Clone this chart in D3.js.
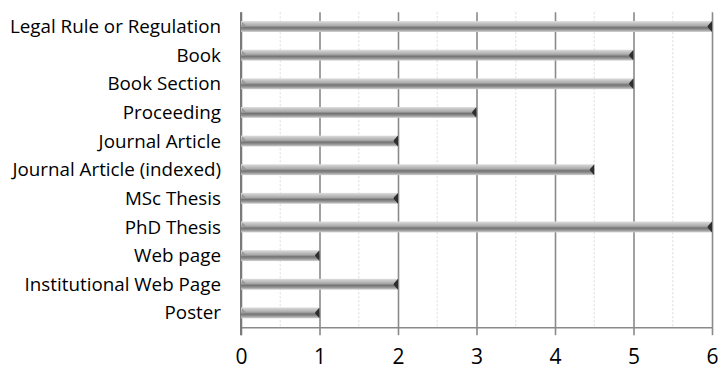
<!DOCTYPE html>
<html>
<head>
<meta charset="utf-8">
<script src="https://cdn.jsdelivr.net/npm/d3@7"></script>
<style>
  html, body { margin: 0; padding: 0; background: #fff; }
  svg { display: block; }
</style>
</head>
<body>
<script>
const categories = ["Legal Rule or Regulation", "Book", "Book Section", "Proceeding", "Journal Article",
  "Journal Article (indexed)", "MSc Thesis", "PhD Thesis", "Web page", "Institutional Web Page", "Poster"];
const values = [6, 5, 5, 3, 2, 4.5, 2, 6, 1, 2, 1];
const tickValues = [0, 1, 2, 3, 4, 5, 6];

const W = 719, H = 371;
const margin = { left: 241, right: 7, top: 12.2, bottom: 43.8 };

const svg = d3.select("body").append("svg").attr("width", W).attr("height", H);

const defs = svg.append("defs");
const grad = defs.append("linearGradient").attr("id", "barGrad")
  .attr("x1", 0).attr("y1", 0).attr("x2", 0).attr("y2", 1);
[[0, "#dedede"], [0.18, "#c6c6c6"], [0.42, "#aaaaaa"], [0.6, "#737373"], [0.78, "#929292"], [1, "#d2d2d2"]]
  .forEach(([o, c]) => grad.append("stop").attr("offset", o).attr("stop-color", c));

const x = d3.scaleLinear().domain([0, 6]).range([margin.left, W - margin.right]);
const y = d3.scaleBand().domain(categories).range([margin.top, H - margin.bottom]).paddingInner(0.62).paddingOuter(0.31);

const plotTop = margin.top, plotBottom = H - margin.bottom;

// minor dotted gridlines
const minor = d3.range(0.5, 6, 1);
svg.append("g").selectAll("line").data(minor).join("line")
  .attr("x1", d => x(d)).attr("x2", d => x(d))
  .attr("y1", plotTop).attr("y2", plotBottom)
  .attr("stroke", "#e3e3e3").attr("stroke-width", 1.3).attr("stroke-dasharray", "2,2");

// major gridlines + ticks via axis
const axis = d3.axisBottom(x).tickValues(tickValues).tickFormat(d3.format("d"))
  .tickSizeInner(-(plotBottom - plotTop)).tickSizeOuter(0).tickPadding(20);
const gAxis = svg.append("g").attr("transform", `translate(0,${plotBottom})`).call(axis);
gAxis.select(".domain").attr("stroke", "#8a8a8a").attr("stroke-width", 1.5);
gAxis.selectAll(".tick line").attr("stroke", "#8a8a8a").attr("stroke-width", 1.6);
gAxis.selectAll(".tick").append("line")
  .attr("y1", 0).attr("y2", 8).attr("stroke", "#8a8a8a").attr("stroke-width", 1.6);
gAxis.selectAll(".tick text")
  .attr("font-family", "'Open Sans', sans-serif").attr("font-size", 21).attr("fill", "#000")
  .attr("dy", null).attr("y", 36.5);

// left axis line
svg.append("line").attr("x1", x(0)).attr("x2", x(0)).attr("y1", plotTop).attr("y2", plotBottom + 8)
  .attr("stroke", "#7a7a7a").attr("stroke-width", 2);

// bars
const bars = svg.append("g").selectAll("g").data(categories).join("g");
bars.append("rect")
  .attr("x", x(0)).attr("y", d => y(d))
  .attr("width", (d, i) => x(values[i]) - x(0)).attr("height", y.bandwidth())
  .attr("fill", "url(#barGrad)");
// end caps
bars.append("path")
  .attr("d", (d, i) => {
    const ex = x(values[i]), cy = y(d) + y.bandwidth() / 2, h = y.bandwidth() / 2;
    return `M${ex},${cy - h} L${ex - 4},${cy - 1} Q${ex - 5},${cy} ${ex - 4},${cy + 1} L${ex},${cy + h} Z`;
  })
  .attr("fill", "#2e2e2e");
// start caps
bars.append("path")
  .attr("d", d => {
    const sx = x(0) + 1, cy = y(d) + y.bandwidth() / 2, h = y.bandwidth() / 2;
    return `M${sx},${cy - h + 1} L${sx + 4},${cy - 1} L${sx},${cy + 1} Z`;
  })
  .attr("fill", "#9a9a9a");

// category labels
svg.append("g").selectAll("text").data(categories).join("text")
  .attr("x", 221).attr("y", d => y(d) + y.bandwidth() / 2)
  .attr("dy", "0.35em").attr("text-anchor", "end")
  .attr("font-family", "'Open Sans', sans-serif").attr("font-size", 18.8).attr("fill", "#000")
  .text(d => d);
</script>
</body>
</html>
